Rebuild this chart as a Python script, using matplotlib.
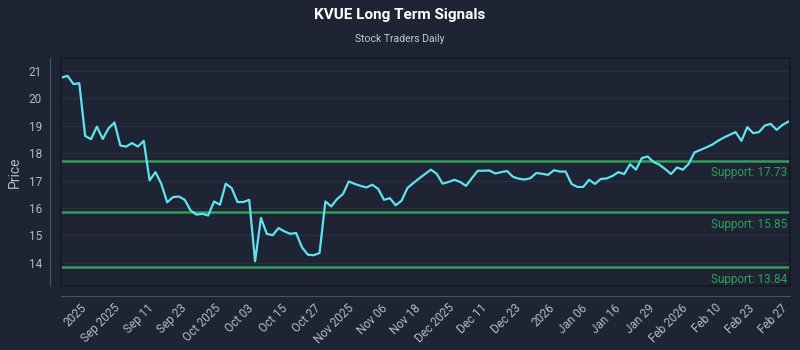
import matplotlib
matplotlib.use("Agg")
import matplotlib.pyplot as plt
import numpy as np
from matplotlib.patches import Rectangle

# daily closes, in order
prices = [
    20.76, 20.82, 20.52, 20.55, 18.63, 18.51, 18.97, 18.52, 18.91, 19.12,
    18.28, 18.24, 18.37, 18.24, 18.45, 17.01, 17.31, 16.88, 16.21, 16.40,
    16.42, 16.30, 15.91, 15.76, 15.79, 15.73, 16.24, 16.12, 16.89, 16.73,
    16.22, 16.22, 16.30, 14.06, 15.64, 15.06, 15.01, 15.27, 15.15, 15.06,
    15.09, 14.57, 14.30, 14.28, 14.36, 16.24, 16.06, 16.33, 16.51, 16.97,
    16.88, 16.81, 16.75, 16.85, 16.70, 16.30, 16.36, 16.10, 16.27, 16.73,
    16.91, 17.08, 17.24, 17.40, 17.25, 16.89, 16.95, 17.03, 16.95, 16.81,
    17.09, 17.36, 17.36, 17.37, 17.26, 17.31, 17.35, 17.14, 17.07, 17.04,
    17.09, 17.28, 17.25, 17.21, 17.38, 17.33, 17.33, 16.88, 16.77, 16.77,
    17.03, 16.88, 17.06, 17.08, 17.17, 17.31, 17.24, 17.60, 17.40, 17.82,
    17.88, 17.68, 17.58, 17.42, 17.24, 17.48, 17.40, 17.61, 18.03, 18.12,
    18.21, 18.31, 18.45, 18.57, 18.67, 18.77, 18.45, 18.95, 18.73, 18.77,
    19.01, 19.07, 18.85, 19.03, 19.15,
]
supports = [17.73, 15.85, 13.84]
tick_labels = ["2025", "Sep 2025", "Sep 11", "Sep 23", "Oct 2025", "Oct 03",
               "Oct 15", "Oct 27", "Nov 2025", "Nov 06", "Nov 18", "Dec 2025",
               "Dec 11", "Dec 23", "2026", "Jan 06", "Jan 16", "Jan 29",
               "Feb 2026", "Feb 10", "Feb 23", "Feb 27"]
yticks = [14, 15, 16, 17, 18, 19, 20, 21]

BG = "#1e2434"
TXT = "#b4b9c5"
LINE = "#5fe3ee"
GREEN = "#2f9e58"
plt.rcParams["font.family"] = ["Roboto", "DejaVu Sans"]

fig = plt.figure(figsize=(8, 3.5), dpi=100, facecolor=BG)
ax = fig.add_axes([0.0759, 0.183, 0.9116, 0.652], facecolor=BG)

x = np.arange(len(prices))
ax.set_xlim(-0.17, len(prices) - 1 + 0.29)
ax.set_ylim(13.16, 21.48)

for y in yticks:
    ax.axhline(y, color="#283042", lw=0.8, zorder=1)
for s in supports:
    ax.axhline(s, color=GREEN, lw=1.8, zorder=2)
    ax.text(0.996, s - 0.2, f"Support: {s:.2f}", transform=ax.get_yaxis_transform(),
            ha="right", va="top", color=GREEN, fontsize=8.5)

ax.plot(x, prices, color=LINE, lw=1.6, zorder=3)

ax.add_patch(Rectangle((0, 0), 1, 1, transform=ax.transAxes, fill=False,
                       ec="#141925", lw=1.2, clip_on=False, zorder=4))
for sp in ["top", "right"]:
    ax.spines[sp].set_visible(False)
ax.spines["left"].set_position(("outward", 7.5))
ax.spines["bottom"].set_position(("outward", 7.2))
ax.spines["left"].set_color("#4a5162")
ax.spines["bottom"].set_color("#4a5162")

ax.set_yticks(yticks)
ax.set_yticklabels([str(v) for v in yticks])
ax.set_xticks(np.linspace(3.2, 122.8, len(tick_labels)))
ax.set_xticklabels(tick_labels, rotation=45, ha="right", rotation_mode="anchor")
ax.tick_params(axis="both", length=0, colors=TXT, labelsize=8.5)
ax.tick_params(axis="x", pad=4)
ax.tick_params(axis="y", pad=6)
ax.set_ylabel("Price", color=TXT, fontsize=10, labelpad=5)

fig.text(0.5, 0.958, "KVUE Long Term Signals", ha="center", va="center",
         color="white", fontsize=11, fontweight="bold")
fig.text(0.5, 0.89, "Stock Traders Daily", ha="center", va="center",
         color="#c3c7d0", fontsize=7.5)

fig.savefig("out.png", dpi=100, facecolor=BG)
